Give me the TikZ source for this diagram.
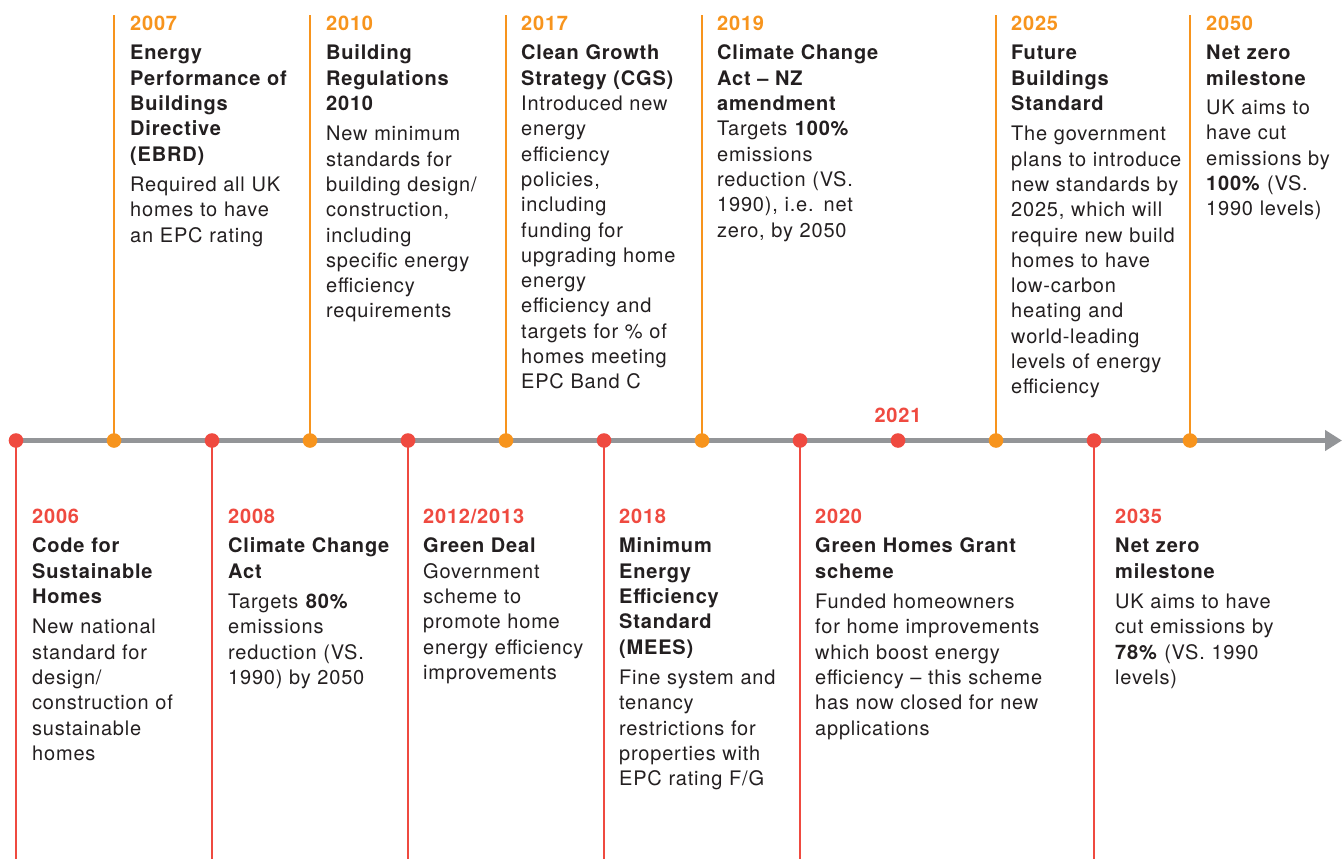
\documentclass[tikz,border=0pt]{standalone}
\usepackage{fontspec}
\setmainfont[LetterSpace=4]{TeX Gyre Heros}
\usetikzlibrary{arrows.meta}
\definecolor{orng}{HTML}{F7941D}
\definecolor{rd}{HTML}{EF4A40}
\definecolor{axisgray}{HTML}{939598}
\definecolor{ink}{HTML}{231F20}
\tikzset{
  col/.style={anchor=north west, inner sep=0pt, align=left, text width=260pt,
    font=\fontsize{20}{25.3}\selectfont, text=ink},
  axisline/.style={draw=axisgray, line width=5pt, -{Triangle[length=17pt,width=20pt]}},
  oline/.style={draw=orng, line width=2.5pt},
  rline/.style={draw=rd, line width=2.5pt},
  odot/.style={circle, fill=orng, minimum size=14.6pt, inner sep=0pt},
  rdot/.style={circle, fill=rd, minimum size=14.6pt, inner sep=0pt},
  yrlabel/.style={anchor=base, inner sep=0pt, font=\fontsize{20}{25.3}\selectfont\bfseries, text=rd},
}
\newcommand\oyr[1]{{\color{orng}\bfseries #1}}
\newcommand\ryr[1]{{\color{rd}\bfseries #1}}
\begin{document}
\begin{tikzpicture}[x=1pt,y=-1pt]
\useasboundingbox (0,0) rectangle (1342,859);
% axis points
\foreach \i/\x in {1/16,2/114,3/212,4/310,5/408,6/506,7/604,8/702,9/800,10/898,11/996,12/1094,13/1190}{
  \coordinate (p\i) at (\x,440.5);
}
\coordinate (aend) at (1342,440.5);
% vertical line ends
\foreach \i/\x in {2/114,4/310,6/506,8/702,11/996,13/1190}{
  \coordinate (top\i) at (\x,15);
}
\foreach \i/\x in {1/16,3/212,5/408,7/604,9/800,12/1094}{
  \coordinate (bot\i) at (\x,859);
}
\draw[axisline] (p1) -- (aend);
\foreach \i in {2,4,6,8,11,13}{ \draw[oline] (p\i) -- (top\i); }
\foreach \i in {1,3,5,7,9,12}{ \draw[rline] (p\i) -- (bot\i); }
\foreach \i in {2,4,6,8,11,13}{ \node[odot] (d\i) at (p\i) {}; }
\foreach \i in {1,3,5,7,9,10,12}{ \node[rdot] (d\i) at (p\i) {}; }

% top columns
\node[col] (t2007) at (130,16) {\oyr{2007}\\[4pt]
\textbf{Energy\\Performance of\\Buildings\\Directive\\(EBRD)}\\[5pt]
Required all UK\\homes to have\\an EPC rating};
\node[col] (t2010) at (326,16) {\oyr{2010}\\[4pt]
\textbf{Building\\Regulations\\2010}\\[5pt]
New minimum\\standards for\\building design/\\construction,\\including\\specific energy\\efficiency\\requirements};
\node[col] (t2017) at (521,16) {\oyr{2017}\\[4pt]
\textbf{Clean Growth\\Strategy (CGS)}\\
Introduced new\\energy\\efficiency\\policies,\\including\\funding for\\upgrading home\\energy\\efficiency and\\targets for \% of\\homes meeting\\EPC Band C};
\node[col] (t2019) at (717,16) {\oyr{2019}\\[4pt]
\textbf{Climate Change\\Act – NZ\\amendment}\\
Targets \textbf{100\%}\\emissions\\reduction (VS.\\1990), i.e. net\\zero, by 2050};
\node[col] (t2025) at (1011,16) {\oyr{2025}\\[4pt]
\textbf{Future\\Buildings\\Standard}\\[5pt]
The government\\plans to introduce\\new standards by\\2025, which will\\require new build\\homes to have\\low-carbon\\heating and\\world-leading\\levels of energy\\efficiency};
\node[col] (t2050) at (1206,16) {\oyr{2050}\\[4pt]
\textbf{Net zero\\milestone}\\[4pt]
UK aims to\\have cut\\emissions by\\\textbf{100\%} (VS.\\1990 levels)};

% bottom columns
\node[col] (b2006) at (32,509) {\ryr{2006}\\[4pt]
\textbf{Code for\\Sustainable\\Homes}\\[5pt]
New national\\standard for\\design/\\construction of\\sustainable\\homes};
\node[col] (b2008) at (228,509) {\ryr{2008}\\[4pt]
\textbf{Climate Change\\Act}\\[5pt]
Targets \textbf{80\%}\\emissions\\reduction (VS.\\1990) by 2050};
\node[col] (b2012) at (423,509) {\ryr{2012/2013}\\[4pt]
\textbf{Green Deal}\\
Government\\scheme to\\promote home\\energy efficiency\\improvements};
\node[col] (b2018) at (619,509) {\ryr{2018}\\[4pt]
\textbf{Minimum\\Energy\\Efficiency\\Standard\\(MEES)}\\[5pt]
Fine system and\\tenancy\\restrictions for\\properties with\\EPC rating F/G};
\node[col] (b2020) at (815,509) {\ryr{2020}\\[4pt]
\textbf{Green Homes Grant\\scheme}\\[5pt]
Funded homeowners\\for home improvements\\which boost energy\\efficiency – this scheme\\has now closed for new\\applications};
\node[col] (b2035) at (1115,509) {\ryr{2035}\\[4pt]
\textbf{Net zero\\milestone}\\[5pt]
UK aims to have\\cut emissions by\\\textbf{78\%} (VS. 1990\\levels)};

\node[yrlabel] (y2021) at (898,422) {2021};
\end{tikzpicture}
\end{document}
